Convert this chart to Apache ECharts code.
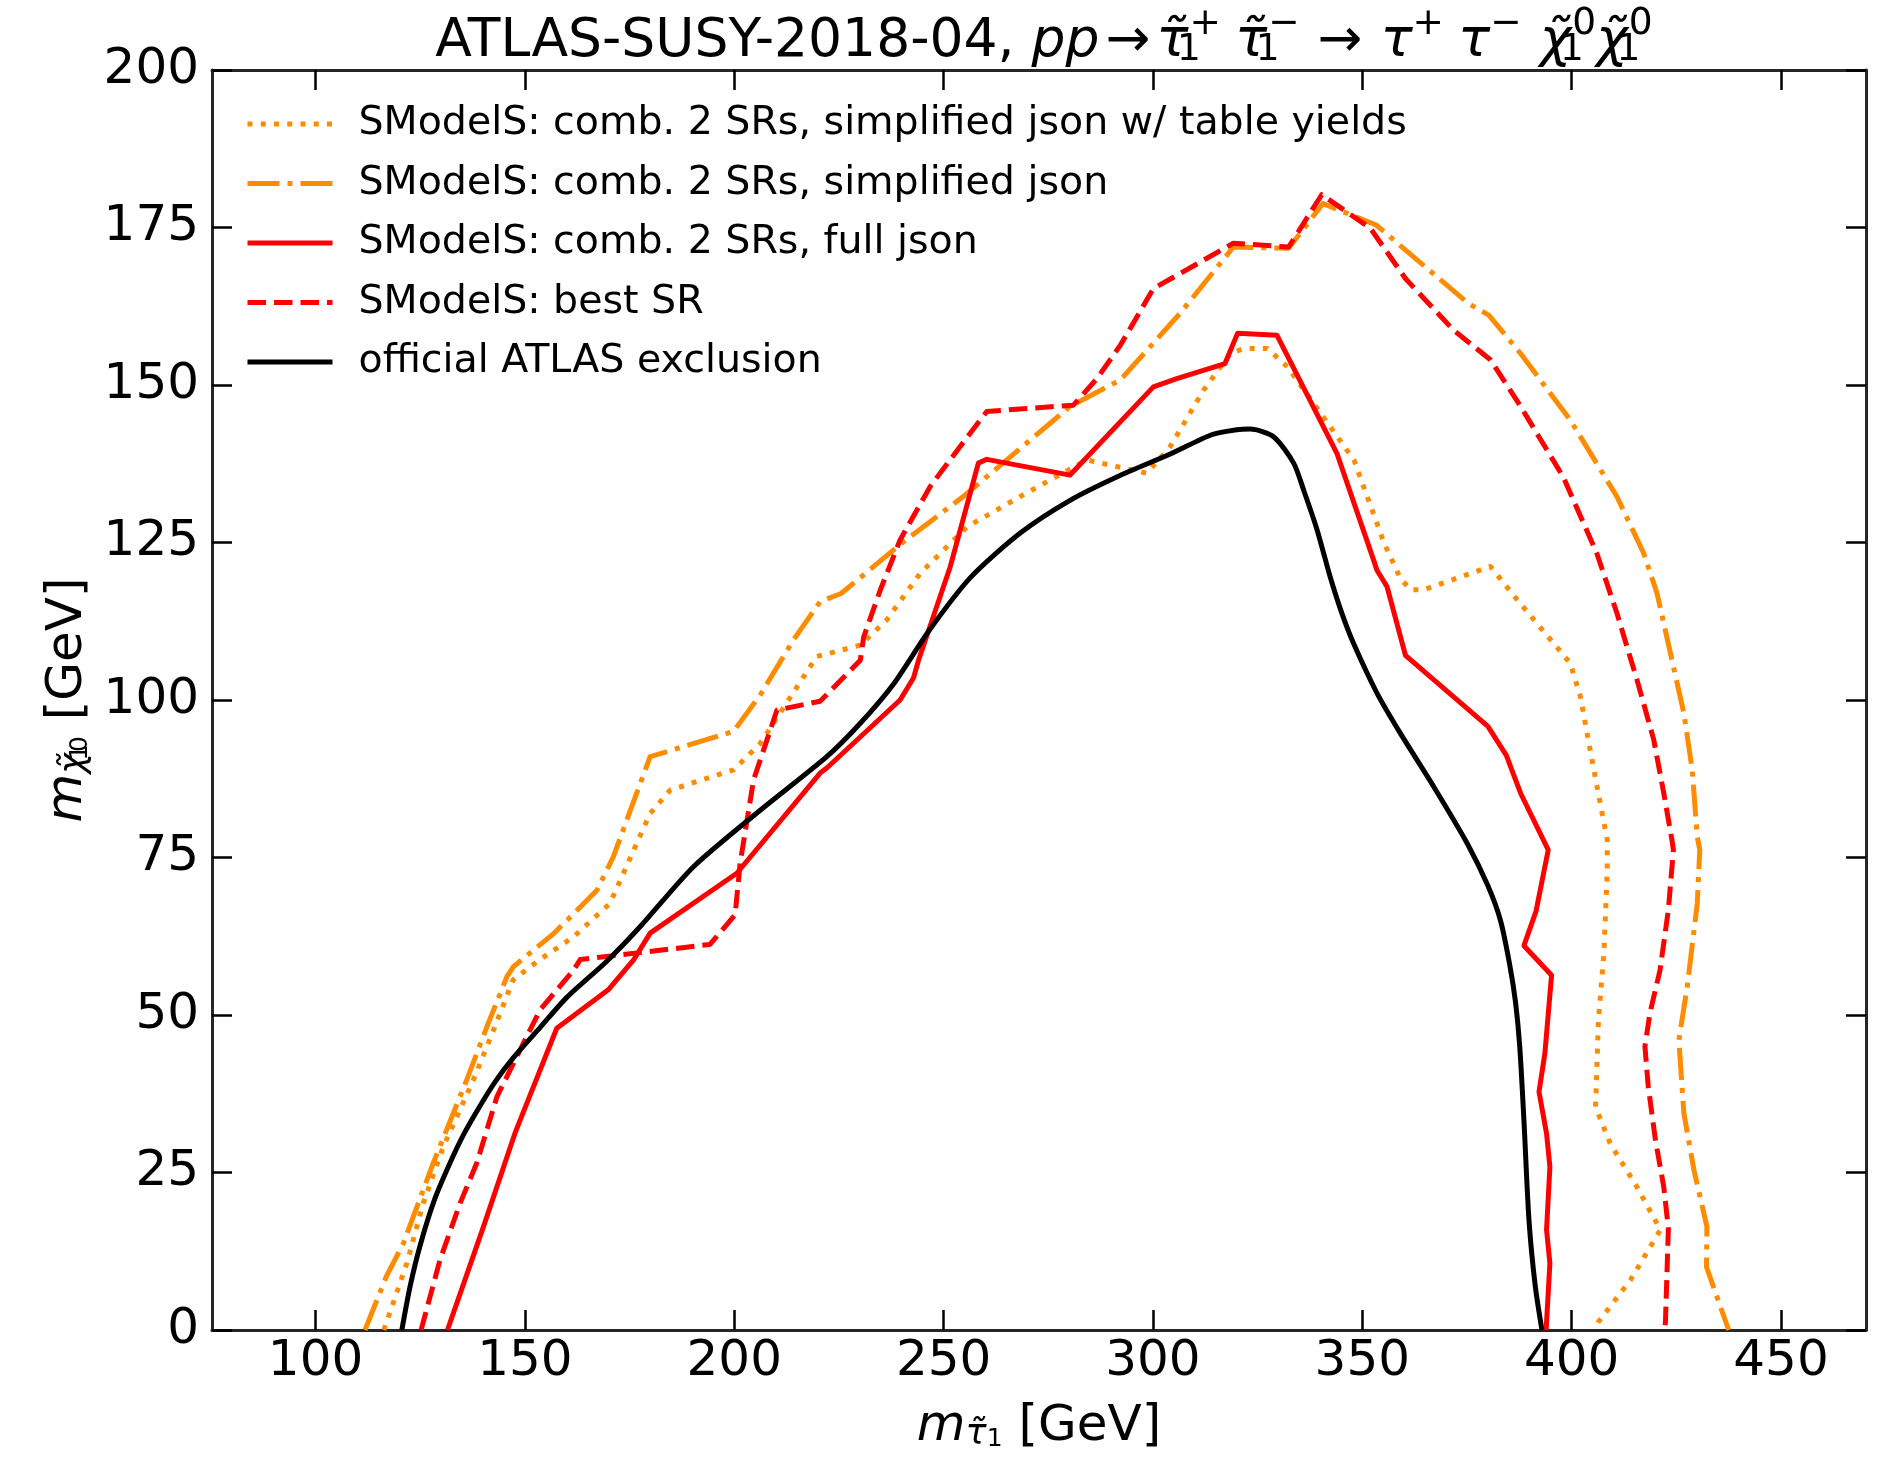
<!DOCTYPE html>
<html>
<head>
<meta charset="utf-8">
<script src="https://cdn.jsdelivr.net/npm/echarts@6/dist/echarts.min.js"></script>
<style>
html,body{margin:0;padding:0;background:#fff;}
#chart{width:1881px;height:1461px;}
</style>
</head>
<body>
<div id="chart"></div>
<script>
// ---- data (m_stau [GeV], m_neutralino [GeV]) ----
const xTicks = [100, 150, 200, 250, 300, 350, 400, 450];
const legendNames = [
  'SModelS: comb. 2 SRs, simplified json w/ table yields',
  'SModelS: comb. 2 SRs, simplified json',
  'SModelS: comb. 2 SRs, full json',
  'SModelS: best SR',
  'official ATLAS exclusion'
];
const simplifiedTableYields = [
  [116.3,0],[121.8,10.6],[125.7,20.1],[130.5,29.1],[137.7,39.7],[142.5,47.6],[147.2,55.6],[153.6,58.8],
  [161.6,62.4],[170.3,67.7],[179.9,82],[184.7,85.7],[199.8,88.9],[206.2,93.1],[219.7,106.9],[230.1,108.7],
  [236.4,112.7],[244.4,120.1],[255.6,127.5],[268.3,132.3],[284.2,138.1],[298.5,136],[304.1,140.2],
  [312.1,149.2],[318.5,155],[321.7,155.8],[327.3,155.8],[332.1,152.9],[348,138.1],[355.2,124.9],
  [359.1,119.3],[361.5,117.5],[364.7,117.5],[380.6,121.2],[387,115.9],[399.7,105.8],[402.1,100.5],
  [405.3,88.9],[408.5,77.8],[408.5,73],[407.7,59.8],[406.4,49.2],[405.7,35.4],[409.2,29.6],[415.6,22.7],
  [421.2,15.9],[414,7.9],[406.4,1.3],[405.5,0]
];
const simplifiedJson = [
  [111.8,0],[116.9,8.5],[121,13.8],[128.1,26.5],[136.1,39.7],[140.9,48.1],[145.7,56.1],[147.3,57.7],
  [157,63],[167.2,69.8],[171.1,75.1],[179.9,91],[199.8,95],[206.2,100.8],[214.1,109.5],[220.5,115.6],
  [225.5,116.9],[240.4,125.1],[254.7,132.3],[280.2,146.6],[292.2,150.8],[306.5,161.4],[319.2,171.9],
  [332.4,171.7],[340.6,178.8],[353.3,175.4],[375.2,163],[380.2,161.1],[387.8,155],[399.7,144.4],
  [410.8,132.3],[417.2,123.3],[420.4,116.9],[423.6,107.4],[426.8,97.9],[428.8,88.9],[430,78.3],
  [430.6,76.2],[430,67.7],[427.6,54.5],[425.6,46],[426.8,34.4],[429.2,25.4],[432.3,16.4],[432.2,10],
  [437.5,0]
];
const fullJson = [
  [131.5,0],[135.8,8.2],[140.1,16.4],[147.6,31.2],[157.6,47.9],[169.9,54],[175.9,58.7],[179.9,63],
  [200.6,72.5],[220.5,88.4],[222.1,89.2],[239.6,100],[242.8,103.5],[244,106.3],[251.6,121.2],
  [258.3,137.6],[260.3,138.2],[280.2,135.7],[300.1,149.7],[305.7,151],[317.2,153.4],[320.2,158.2],
  [329.6,157.9],[343.9,139.2],[352.7,122.2],[353.5,120.6],[355.9,118],[360.3,107.1],[380,95.8],
  [384.4,91.2],[387.8,85.2],[394.4,76.2],[391.5,66.5],[388.6,61],[395.2,56.3],[393.6,43.9],[392.2,37.8],
  [394,31.2],[394.8,25.9],[394,15.9],[394.8,10.6],[393.9,0]
];
const bestSR = [
  [125.2,0],[129.7,11.1],[134.5,20.1],[138.5,26.5],[143.3,37],[148.8,44.4],[153.6,50.8],[161.6,57.1],
  [163.2,58.8],[194.2,61.2],[200.2,65.9],[201.4,74.1],[204.6,87.3],[210.2,98.4],[220.5,99.8],[230.1,106.3],
  [230.9,110],[234.9,117.5],[239.6,125.4],[246.8,133.9],[253.9,140.2],[260.3,145.8],[281,146.8],
  [286.6,151],[292.2,156.3],[300.1,165.3],[319.2,172.5],[332.4,171.9],[340.3,180.2],[351.9,174.9],
  [360.3,166.9],[371.8,158.7],[380.6,154],[387.8,146.6],[398,135.4],[406,123.3],[410.8,113.8],
  [415.6,103.2],[419.6,93.7],[422,85.2],[423.9,78],[424.3,76.2],[423.1,66.7],[421.1,57.1],[418.7,50.3],
  [417.5,45],[418.3,38.6],[420,30.2],[422,22.7],[423.1,16.1],[422.4,1.3],[422.2,0]
];
const atlasOfficial = [
  [120.6,0],[122.6,7],[125,13.5],[128.3,20.5],[132.1,26.5],[135.5,31.2],[139.3,35.6],[143,39.5],
  [147.2,43.2],[153.6,48],[160,52.8],[169.5,58.5],[177.5,64],[190.2,73.5],[206.2,82.5],[222.1,91],
  [230.1,96.3],[238,102.5],[246.5,111],[256.5,119.5],[268.3,126.5],[280.2,131.7],[292,135.6],[304,139],
  [314,142.1],[320,142.9],[323.2,143],[328.8,141.8],[333.6,137.6],[336,133.3],[339.2,127],[342.3,119.6],
  [345,114],[347.9,109],[353.5,101.1],[359.1,94.7],[367.1,86.2],[375,77.3],[380,70.5],[383,65],
  [385.2,58],[386.6,52],[387.6,45],[388.6,33.3],[389.8,17.5],[391.3,7],[392.9,0]
];

const FONT = 'DejaVu Sans';
const chart = echarts.init(document.getElementById('chart'), null, {renderer: 'canvas'});

function mkSeries(name, data, color, dash, z, smooth) {
  return {
    name: name, type: 'line', data: data, xAxisIndex: 0, yAxisIndex: 0,
    symbol: 'none', showSymbol: false, smooth: smooth || false, z: z,
    lineStyle: {color: color, width: 5, type: dash, cap: 'butt', join: 'round'},
    itemStyle: {color: color},
    emphasis: {disabled: true}, animation: false
  };
}

const mathRich = {
  n:  {fontFamily: FONT, fontSize: 50, fontWeight: 'normal', color: '#000', verticalAlign: 'bottom', lineHeight: 80},
  it: {fontFamily: FONT, fontSize: 50, fontWeight: 'normal', color: '#000', fontStyle: 'italic', verticalAlign: 'bottom', lineHeight: 80},
  sb: {fontFamily: FONT, fontSize: 35, fontWeight: 'normal', color: '#000', fontStyle: 'italic', verticalAlign: 'bottom', lineHeight: 51},
  ss: {fontFamily: FONT, fontSize: 25, fontWeight: 'normal', color: '#000', verticalAlign: 'bottom', lineHeight: 22, width: 1},
  ssl:{fontFamily: FONT, fontSize: 25, fontWeight: 'normal', color: '#000', verticalAlign: 'bottom', lineHeight: 33},
  sp: {fontFamily: FONT, fontSize: 25, fontWeight: 'normal', color: '#000', verticalAlign: 'bottom', lineHeight: 80}
};

function gap(w) { return {width: w, fontSize: 10, lineHeight: 10, verticalAlign: 'bottom'}; }
const titleRich = {
  n:  {fontFamily: FONT, fontSize: 53.5, fontWeight: 'normal', color: '#000', verticalAlign: 'bottom', lineHeight: 64},
  it: {fontFamily: FONT, fontSize: 53.5, fontWeight: 'normal', color: '#000', fontStyle: 'italic', verticalAlign: 'bottom', lineHeight: 64},
  s1: {fontFamily: FONT, fontSize: 37.5, fontWeight: 'normal', color: '#000', verticalAlign: 'bottom', lineHeight: 26, width: 1},
  p:  {fontFamily: FONT, fontSize: 37.5, fontWeight: 'normal', color: '#000', verticalAlign: 'top', lineHeight: 26},
  g6: gap(6), g10: gap(10), g14: gap(14), g18: gap(18)
};

const titleText = '{n|ATLAS-SUSY-2018-04, }{it|pp}{g6| }{n|→}{g6| }{it|τ̃}{s1|1}{p|+}{g14| }{it|τ̃}{s1|1}{p|−}{g18| }{n|→}{g18| }{it|τ}{p|+}{g14| }{it|τ}{p|−}{g18| }{it|χ̃}{s1|1}{p|0}{it|χ̃}{s1|1}{p|0}';

const tickStyle = {show: true, inside: true, length: 20, lineStyle: {color: '#000', width: 2.5}, customValues: xTicks};
const axisLineStyle = {show: true, onZero: false, lineStyle: {color: '#262626', width: 3}};

const option = {
  backgroundColor: '#fff',
  animation: false,
  title: {
    text: titleText,
    left: 1039, top: 0, textAlign: 'center',
    textStyle: {rich: titleRich, fontFamily: FONT, fontSize: 53.5, fontWeight: 'normal', color: '#000'}
  },
  grid: {left: 212, right: 15, top: 70, bottom: 131, containLabel: false, outerBoundsMode: 'none'},
  legend: {
    data: legendNames,
    orient: 'vertical', left: 245, top: 102, padding: 0,
    itemWidth: 85, itemHeight: 20, itemGap: 15.5,
    selectedMode: false,
    itemStyle: {opacity: 0},
    lineStyle: {width: 5},
    formatter: function (name) { return '{s| }' + name; },
    textStyle: {fontFamily: FONT, fontSize: 39.5, color: '#000', lineHeight: 44,
      rich: {s: {width: 21, fontSize: 39.5, lineHeight: 44}}}
  },
  xAxis: [
    {
      type: 'value', min: 75.26, max: 470.3, position: 'bottom',
      name: '{it|m}{sb|τ̃}{ssl|1}{n| [GeV]}', nameLocation: 'middle', nameGap: 42,
      nameTextStyle: {rich: mathRich, fontFamily: FONT, fontSize: 50, color: '#000'},
      axisLine: axisLineStyle,
      axisTick: tickStyle,
      splitLine: {show: false},
      axisLabel: {show: true, customValues: xTicks, margin: 7, fontFamily: FONT, fontSize: 50, color: '#000'}
    },
    {
      type: 'value', min: 75.26, max: 470.3, position: 'top',
      axisLine: axisLineStyle,
      axisTick: tickStyle,
      splitLine: {show: false},
      axisLabel: {show: false, customValues: xTicks}
    }
  ],
  yAxis: [
    {
      type: 'value', min: 0, max: 200, interval: 25, position: 'left',
      name: '{it|m}{sb|χ̃}{ss|1}{sp|0}{n| [GeV]}', nameLocation: 'middle', nameGap: 117,
      nameTextStyle: {rich: mathRich, fontFamily: FONT, fontSize: 50, color: '#000'},
      axisLine: axisLineStyle,
      axisTick: {show: true, inside: true, length: 20, lineStyle: {color: '#000', width: 2.5}},
      splitLine: {show: false},
      axisLabel: {show: true, margin: 13, fontFamily: FONT, fontSize: 50, color: '#000'}
    },
    {
      type: 'value', min: 0, max: 200, interval: 25, position: 'right',
      axisLine: axisLineStyle,
      axisTick: {show: true, inside: true, length: 20, lineStyle: {color: '#000', width: 2.5}},
      splitLine: {show: false},
      axisLabel: {show: false}
    }
  ],
  series: [
    mkSeries(legendNames[0], simplifiedTableYields, '#ff8c00', [5, 8.25], 2),
    mkSeries(legendNames[1], simplifiedJson, '#ff8c00', [32, 8, 5, 8], 3),
    mkSeries(legendNames[2], fullJson, '#ff0000', 'solid', 4),
    mkSeries(legendNames[3], bestSR, '#ff0000', [18.5, 8], 5),
    mkSeries(legendNames[4], atlasOfficial, '#000000', 'solid', 6, 0.25)
  ]
};
chart.setOption(option);
</script>
</body>
</html>
